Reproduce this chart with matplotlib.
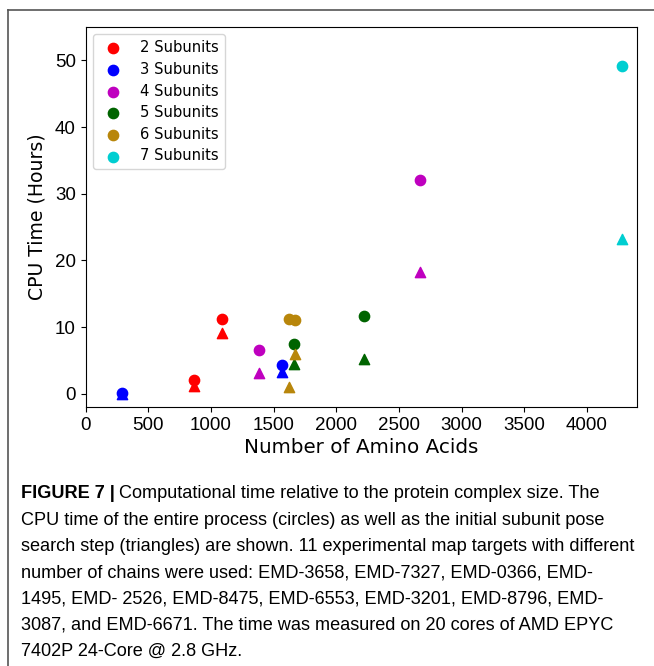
import matplotlib.pyplot as plt
from matplotlib.lines import Line2D


# one entry per experimental map target
amino_acids = [288, 867, 1088, 1566, 1383, 2672, 1662, 2220, 1622, 1670, 4283]
n_subunits = [3, 2, 2, 3, 4, 4, 5, 5, 6, 6, 7]
cpu_total = [0.1, 2.1, 11.2, 4.25, 6.5, 32.1, 7.5, 11.6, 11.2, 11.05, 49.2]
cpu_search = [0.0, 1.1, 9.1, 3.25, 3.15, 18.2, 4.5, 5.2, 1.0, 6.0, 23.2]

groups = [2, 3, 4, 5, 6, 7]
colors = ["red", "blue", "m", "darkgreen", "darkgoldenrod", "darkturquoise"]

caption_lines = [
    "CPU time of the entire process (circles) as well as the initial subunit pose",
    "search step (triangles) are shown. 11 experimental map targets with different",
    "number of chains were used: EMD-3658, EMD-7327, EMD-0366, EMD-",
    "1495, EMD- 2526, EMD-8475, EMD-6553, EMD-3201, EMD-8796, EMD-",
    "3087, and EMD-6671. The time was measured on 20 cores of AMD EPYC",
    "7402P 24-Core @ 2.8 GHz.",
]

W, H = 654, 666
fig = plt.figure(figsize=(W / 100, H / 100), dpi=100)
ax = fig.add_axes([85.5 / W, 1 - 407 / H, (637 - 85.5) / W, (407 - 27) / H])

for n, c in zip(groups, colors):
    idx = [i for i, s in enumerate(n_subunits) if s == n]
    x = [amino_acids[i] for i in idx]
    ax.scatter(x, [cpu_total[i] for i in idx], color=c, s=55, label=str(n) + " Subunits")
    ax.scatter(x, [cpu_search[i] for i in idx], color=c, s=55, marker="^")

ax.set_xlim(0, 4400)
ax.set_ylim(-2, 55)
ax.set_xticks(range(0, 4001, 500))
ax.set_yticks(range(0, 51, 10))
for lab in ax.get_xticklabels() + ax.get_yticklabels():
    lab.set_family("Liberation Sans")
    lab.set_fontsize(13.5)
ax.set_xlabel("Number of Amino Acids", fontsize=14.3, labelpad=3)
ax.set_ylabel("CPU Time (Hours)", fontsize=13.6, labelpad=6)
ax.legend(loc="upper left", fontsize=10.6, labelspacing=0.45, scatterpoints=1)

# page frame around the figure
fig.add_artist(Line2D([8 / W, 1], [1 - 10 / H, 1 - 10 / H], color="#555555", lw=1.2))
fig.add_artist(Line2D([8 / W, 8 / W], [0, 1 - 10 / H], color="#555555", lw=1.2))

# caption
cap_font = "Liberation Sans"
cap_size = 13.05
y0, dy = 494, 26.3
r = fig.canvas.get_renderer()
t = fig.text(21 / W, 1 - y0 / H, "FIGURE 7 |", family=cap_font, weight="bold",
             fontsize=cap_size, va="center")
x1 = t.get_window_extent(r).x1
fig.text((x1 + 4) / W, 1 - y0 / H, "Computational time relative to the protein complex size. The",
         family=cap_font, fontsize=cap_size, va="center")
for k, line in enumerate(caption_lines):
    fig.text(21 / W, 1 - (y0 + dy * (k + 1)) / H, line, family=cap_font,
             fontsize=cap_size, va="center")

fig.savefig("out.png", dpi=100)
